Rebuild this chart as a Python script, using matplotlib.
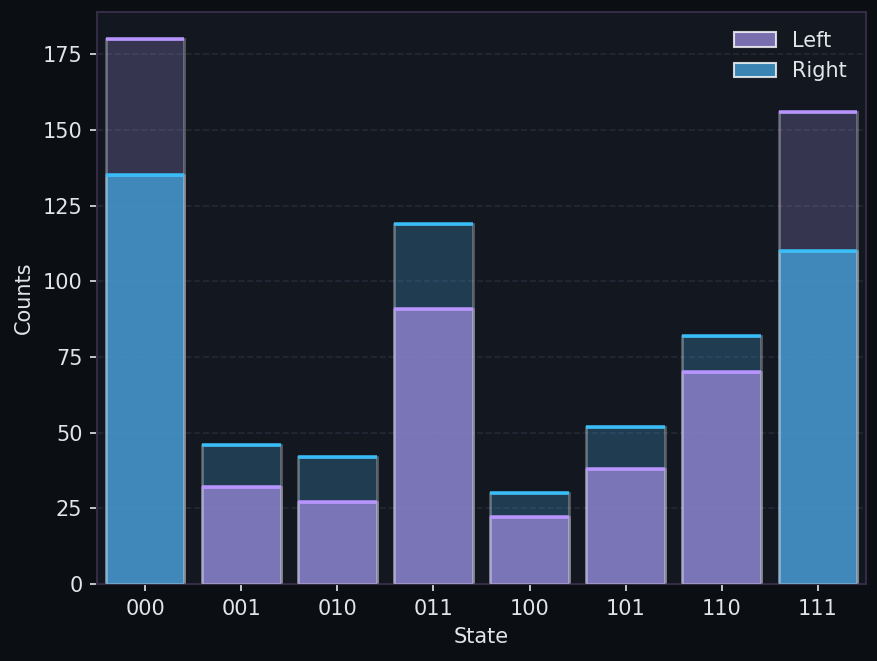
import matplotlib
matplotlib.use("Agg")
import matplotlib.pyplot as plt
import numpy as np

states = ["000", "001", "010", "011", "100", "101", "110", "111"]
left_counts = [180, 32, 27, 91, 22, 38, 70, 156]
right_counts = [135, 46, 42, 119, 30, 52, 82, 110]

LEFT_FILL = "#9486d4"
RIGHT_FILL = "#43a0d8"
LEFT_LINE = "#b794ff"
RIGHT_LINE = "#38bdf8"
TEXT_C = "#e2e4ea"

fig = plt.figure(figsize=(8.78 / 1.5, 6.61 / 1.5), dpi=150)
fig.patch.set_facecolor("#0b0e12")
ax = fig.add_axes([97 / 878, 1 - 584 / 661, (866 - 97) / 878, (584 - 12) / 661])
ax.set_facecolor("#131720")

x = np.arange(len(states))
width = 0.82

for i, (l, r) in enumerate(zip(left_counts, right_counts)):
    # taller bar goes behind, faded; shorter one in front
    pairs = [(l, LEFT_FILL, LEFT_LINE), (r, RIGHT_FILL, RIGHT_LINE)]
    pairs.sort(key=lambda p: -p[0])
    for k, (val, fill, line) in enumerate(pairs):
        alpha = 0.27 if k == 0 else 0.78
        ax.bar(x[i], val, width, color=fill, alpha=alpha, zorder=2 + k,
               edgecolor="none")
        ax.bar(x[i], val, width, color="none", edgecolor=(1, 1, 1, 0.3),
               linewidth=1.3, zorder=2 + k)
        ax.hlines(val, x[i] - width / 2, x[i] + width / 2, color=line,
                  linewidth=1.7, zorder=5)

# legend proxies
ax.bar([0], [0], color=LEFT_FILL, alpha=0.8, edgecolor=(1, 1, 1, 0.5), label="Left")
ax.bar([0], [0], color=RIGHT_FILL, alpha=0.8, edgecolor=(1, 1, 1, 0.5), label="Right")

ax.set_xlim(-0.5, len(states) - 0.5)
ax.set_ylim(0, max(left_counts + right_counts) * 1.05)
ax.set_xticks(x)
ax.set_xticklabels(states)
ax.set_xlabel("State", color=TEXT_C, fontsize=10)
ax.set_ylabel("Counts", color=TEXT_C, fontsize=10)
ax.tick_params(colors=TEXT_C, labelsize=10)
ax.yaxis.grid(True, linestyle="--", color="#232836", linewidth=0.8, zorder=0)
ax.set_axisbelow(True)
for s in ax.spines.values():
    s.set_color("#342c45")
    s.set_linewidth(1.0)

ax.legend(loc="upper right", frameon=False, fontsize=10, labelcolor=TEXT_C)

plt.savefig("out.png", dpi=150, facecolor=fig.get_facecolor())
